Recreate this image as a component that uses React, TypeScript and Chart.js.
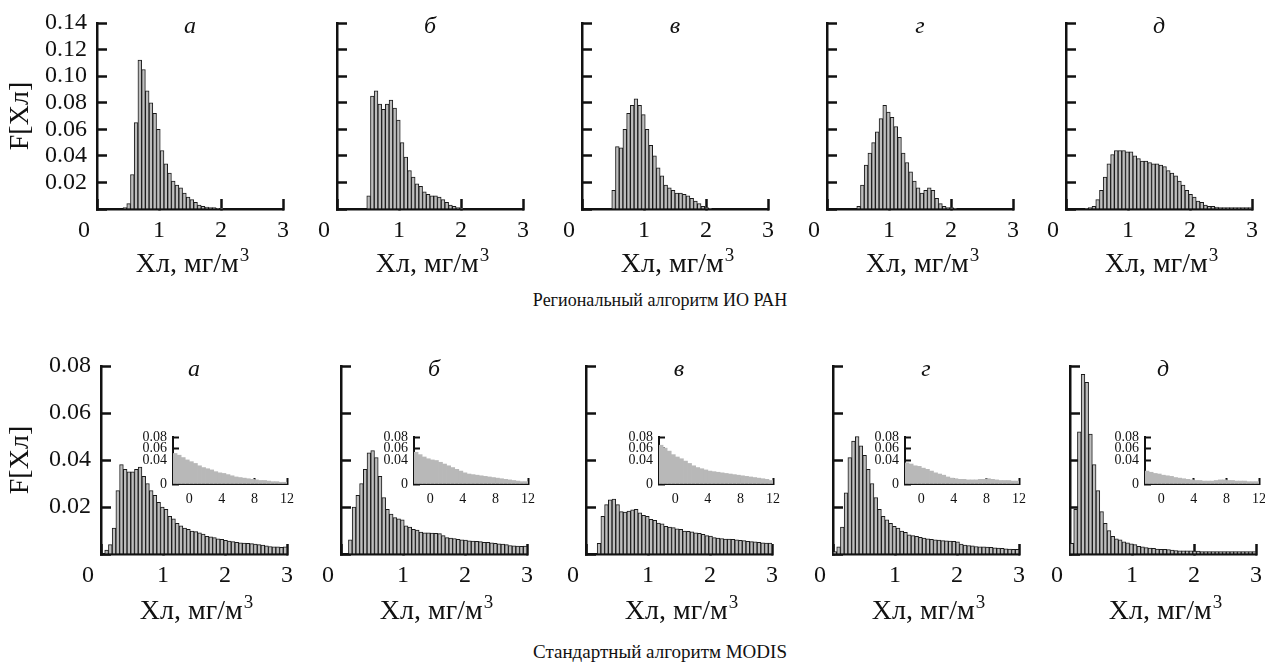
import React, { useEffect, useRef } from 'react';
import { Chart, registerables } from 'chart.js';

Chart.register(...registerables);

const FONT = "'Liberation Serif', 'Times New Roman', serif";
const INK = '#111111';

// ---- categories / ticks ----
const BIN_WIDTH = 0.06; // mg/m3 per bin of the main histograms
const BIN_START = 0;
const INSET_BIN_WIDTH = 0.5;
const INSET_START = -2;
const PANEL_LETTERS = ['а', 'б', 'в', 'г', 'д'];
const X_TICKS = [0, 1, 2, 3];
const TOP_Y_TICKS = [0, 0.02, 0.04, 0.06, 0.08, 0.1, 0.12, 0.14];
const BOTTOM_Y_TICKS = [0, 0.02, 0.04, 0.06, 0.08];
const INSET_X_TICKS = [0, 4, 8, 12];
const INSET_Y_TICKS = [0, 0.04, 0.06, 0.08];
const X_TITLE_MAIN = 'Хл, мг/м';
const X_TITLE_SUP = '3';
const Y_TITLE = 'F[Хл]';
const TOP_CAPTION = 'Региональный алгоритм ИО РАН';
const BOTTOM_CAPTION = 'Стандартный алгоритм MODIS';

// ---- series: regional algorithm (top row), 50 bins of 0.06 from 0 to 3 ----
const TOP_A = [0, 0, 0, 0, 0, 0, 0, 0.001, 0.004, 0.026, 0.065, 0.112, 0.105, 0.089, 0.08, 0.072, 0.06, 0.044, 0.034, 0.027, 0.021, 0.018, 0.016, 0.012, 0.009, 0.007, 0.005, 0.003, 0.002, 0.0015, 0.001, 0.001, 0.0005, 0.0005, 0, 0, 0, 0, 0, 0, 0, 0, 0, 0, 0, 0, 0, 0, 0, 0];
const TOP_B = [0, 0, 0, 0, 0, 0, 0, 0, 0.01, 0.085, 0.089, 0.079, 0.075, 0.079, 0.082, 0.076, 0.067, 0.05, 0.039, 0.029, 0.024, 0.019, 0.017, 0.013, 0.011, 0.01, 0.01, 0.009, 0.007, 0.005, 0.003, 0.002, 0.001, 0.0005, 0, 0, 0, 0, 0, 0, 0, 0, 0, 0, 0, 0, 0, 0, 0, 0];
const TOP_V = [0, 0, 0, 0, 0, 0, 0, 0, 0.014, 0.047, 0.046, 0.06, 0.072, 0.078, 0.083, 0.078, 0.071, 0.06, 0.048, 0.04, 0.031, 0.025, 0.018, 0.016, 0.014, 0.012, 0.012, 0.011, 0.01, 0.008, 0.006, 0.004, 0.002, 0.001, 0.0005, 0, 0, 0, 0, 0, 0, 0, 0, 0, 0, 0, 0, 0, 0, 0];
const TOP_G = [0, 0, 0, 0, 0, 0, 0, 0, 0.002, 0.018, 0.033, 0.042, 0.05, 0.058, 0.068, 0.078, 0.073, 0.069, 0.062, 0.054, 0.042, 0.035, 0.028, 0.021, 0.016, 0.012, 0.014, 0.016, 0.014, 0.008, 0.004, 0.002, 0.001, 0.001, 0.0005, 0, 0, 0, 0, 0, 0, 0, 0, 0, 0, 0, 0, 0, 0, 0];
const TOP_D = [0, 0, 0, 0, 0, 0.0005, 0.001, 0.002, 0.007, 0.014, 0.024, 0.034, 0.041, 0.044, 0.044, 0.044, 0.043, 0.043, 0.04, 0.038, 0.036, 0.036, 0.035, 0.034, 0.034, 0.033, 0.032, 0.029, 0.027, 0.025, 0.021, 0.018, 0.014, 0.011, 0.009, 0.006, 0.005, 0.003, 0.002, 0.002, 0.0015, 0.001, 0.001, 0.001, 0.001, 0.001, 0.001, 0.001, 0.001, 0.001];

// ---- series: standard MODIS algorithm (bottom row) ----
const BOTTOM_A = [0, 0.0017, 0.004, 0.011, 0.027, 0.038, 0.036, 0.035, 0.035, 0.036, 0.037, 0.033, 0.03, 0.027, 0.025, 0.022, 0.02, 0.019, 0.016, 0.015, 0.013, 0.012, 0.011, 0.0105, 0.0098, 0.0095, 0.009, 0.0085, 0.0075, 0.0073, 0.007, 0.0065, 0.0062, 0.0058, 0.0055, 0.0053, 0.005, 0.0048, 0.0047, 0.0045, 0.0044, 0.0042, 0.004, 0.0038, 0.0035, 0.0032, 0.003, 0.003, 0.0028, 0.003];
const BOTTOM_B = [0, 0, 0.006, 0.02, 0.025, 0.03, 0.036, 0.043, 0.044, 0.041, 0.033, 0.024, 0.019, 0.017, 0.0155, 0.015, 0.0145, 0.012, 0.0115, 0.0105, 0.0102, 0.0093, 0.009, 0.009, 0.0089, 0.0088, 0.0087, 0.0078, 0.007, 0.0068, 0.0066, 0.0062, 0.006, 0.0059, 0.0056, 0.0055, 0.0054, 0.0053, 0.005, 0.005, 0.0048, 0.0045, 0.0043, 0.0042, 0.004, 0.0036, 0.0035, 0.0034, 0.0033, 0.0034];
const BOTTOM_V = [0, 0, 0, 0.0045, 0.016, 0.021, 0.023, 0.0234, 0.021, 0.018, 0.0178, 0.0183, 0.0188, 0.019, 0.0175, 0.0165, 0.016, 0.0148, 0.0143, 0.0132, 0.0128, 0.0118, 0.0115, 0.0112, 0.0107, 0.0105, 0.0098, 0.0096, 0.0094, 0.009, 0.0088, 0.0084, 0.0078, 0.0076, 0.007, 0.0068, 0.0066, 0.0064, 0.0063, 0.0062, 0.006, 0.0058, 0.0057, 0.0054, 0.0053, 0.0052, 0.005, 0.0048, 0.0047, 0.0046];
const BOTTOM_G = [0.001, 0.003, 0.0115, 0.026, 0.041, 0.048, 0.05, 0.046, 0.042, 0.036, 0.03, 0.024, 0.019, 0.016, 0.0145, 0.013, 0.0118, 0.011, 0.0098, 0.0092, 0.0082, 0.0078, 0.0075, 0.0071, 0.0068, 0.0065, 0.0062, 0.006, 0.0059, 0.0057, 0.0056, 0.0055, 0.0054, 0.0052, 0.0042, 0.0038, 0.0036, 0.0035, 0.0032, 0.003, 0.003, 0.0029, 0.0028, 0.0026, 0.0025, 0.0024, 0.0022, 0.0021, 0.002, 0.002];
const BOTTOM_D = [0.0045, 0.019, 0.052, 0.0765, 0.073, 0.051, 0.038, 0.027, 0.018, 0.013, 0.01, 0.0075, 0.0065, 0.006, 0.0052, 0.0048, 0.0043, 0.004, 0.0033, 0.003, 0.0027, 0.0025, 0.0024, 0.0021, 0.002, 0.002, 0.0019, 0.0017, 0.0015, 0.0014, 0.0014, 0.0013, 0.0013, 0.0012, 0.0012, 0.001, 0.001, 0.001, 0.001, 0.001, 0.001, 0.001, 0.001, 0.001, 0.001, 0.001, 0.001, 0.001, 0.001, 0.001];

// ---- inset series: 28 bins of 0.5 from -2 to 12 ----
const INSET_A = [0.052, 0.049, 0.045, 0.041, 0.038, 0.035, 0.031, 0.028, 0.026, 0.024, 0.021, 0.019, 0.018, 0.016, 0.014, 0.012, 0.011, 0.01, 0.009, 0.008, 0.007, 0.006, 0.006, 0.005, 0.004, 0.004, 0.003, 0.003];
const INSET_B = [0.054, 0.05, 0.046, 0.043, 0.041, 0.04, 0.037, 0.034, 0.031, 0.028, 0.025, 0.022, 0.019, 0.017, 0.016, 0.015, 0.014, 0.013, 0.012, 0.011, 0.01, 0.009, 0.008, 0.007, 0.006, 0.005, 0.004, 0.004];
const INSET_V = [0.066, 0.061, 0.056, 0.05, 0.046, 0.043, 0.039, 0.035, 0.031, 0.028, 0.026, 0.024, 0.022, 0.021, 0.02, 0.019, 0.018, 0.017, 0.016, 0.015, 0.014, 0.013, 0.012, 0.011, 0.01, 0.009, 0.008, 0.006];
const INSET_G = [0.036, 0.034, 0.031, 0.03, 0.027, 0.025, 0.022, 0.019, 0.017, 0.015, 0.012, 0.01, 0.009, 0.008, 0.008, 0.007, 0.007, 0.007, 0.008, 0.008, 0.009, 0.008, 0.007, 0.006, 0.006, 0.006, 0.005, 0.005];
const INSET_D = [0.022, 0.02, 0.018, 0.017, 0.015, 0.014, 0.013, 0.011, 0.01, 0.009, 0.008, 0.007, 0.006, 0.006, 0.005, 0.005, 0.005, 0.006, 0.007, 0.007, 0.006, 0.006, 0.005, 0.005, 0.005, 0.004, 0.004, 0.004];

const TOP_SERIES = [TOP_A, TOP_B, TOP_V, TOP_G, TOP_D];
const BOTTOM_SERIES = [BOTTOM_A, BOTTOM_B, BOTTOM_V, BOTTOM_G, BOTTOM_D];
const INSET_SERIES = [INSET_A, INSET_B, INSET_V, INSET_G, INSET_D];

// ---- layout (plot-area rectangles) ----
const TOP_LEFTS = [97, 337, 582, 827, 1066];
const BOTTOM_LEFTS = [101, 341, 586, 833, 1070];
const INSET_LEFTS = [173, 414, 659, 905, 1145];

type Spec = {
  left: number; top: number; width: number; height: number;
  padL: number; padR: number; padT: number; padB: number;
  values: number[]; binStart: number; binWidth: number;
  xMin: number; xMax: number; xTicks: number[];
  yMax: number; yTicks: number[];
  yLabels: 'none' | 'nonzero' | 'all';
  hideZeroX: boolean;
  xTitle: boolean; yTitle: boolean; yTitleX: number; xTitleBase: number;
  letter?: string; zeroCorner: boolean;
  tickSize: number; tickLen: number; tickWidth: number; axisWidth: number;
  xTickPad: number; yTickPad: number;
  barColor: string; borderColor: string; borderWidth: number;
};

const TITLE_SIZE = 28;
const SUP_SIZE = 19;

function HistChart({ s }: { s: Spec }) {
  const ref = useRef<HTMLCanvasElement>(null);
  const cw = s.padL + s.width + s.padR;
  const ch = s.padT + s.height + s.padB;
  useEffect(() => {
    const canvas = ref.current;
    if (!canvas) return;
    const textPlugin = {
      id: 'panelText',
      afterDraw(chart: any) {
        const { ctx, chartArea } = chart;
        const cx = (chartArea.left + chartArea.right) / 2;
        ctx.save();
        ctx.fillStyle = INK;
        if (s.letter) {
          ctx.font = `italic 24px ${FONT}`;
          ctx.textAlign = 'center';
          ctx.textBaseline = 'alphabetic';
          ctx.fillText(s.letter, cx, chartArea.top + 10);
        }
        if (s.zeroCorner) {
          ctx.font = `${s.tickSize}px ${FONT}`;
          ctx.textAlign = 'center';
          ctx.textBaseline = 'middle';
          const xs = chart.scales.x;
          const ys = chart.scales.y;
          ctx.fillText('0', xs.getPixelForValue(0) - 13, ys.getPixelForValue(0) + 22);
        }
        if (s.xTitle) {
          ctx.textBaseline = 'alphabetic';
          ctx.textAlign = 'left';
          ctx.font = `${TITLE_SIZE}px ${FONT}`;
          const w1 = ctx.measureText(X_TITLE_MAIN).width;
          ctx.font = `${SUP_SIZE}px ${FONT}`;
          const w2 = ctx.measureText(X_TITLE_SUP).width;
          const x0 = cx - (w1 + w2) / 2 + 2;
          const base = chartArea.bottom + s.xTitleBase;
          ctx.font = `${TITLE_SIZE}px ${FONT}`;
          ctx.fillText(X_TITLE_MAIN, x0, base);
          ctx.font = `${SUP_SIZE}px ${FONT}`;
          ctx.fillText(X_TITLE_SUP, x0 + w1 + 1, base - 11);
        }
        if (s.yTitle) {
          ctx.translate(chartArea.left - s.yTitleX, (chartArea.top + chartArea.bottom) / 2);
          ctx.rotate(-Math.PI / 2);
          ctx.font = `${TITLE_SIZE}px ${FONT}`;
          ctx.textAlign = 'center';
          ctx.textBaseline = 'middle';
          ctx.fillText(Y_TITLE, 0, 0);
        }
        ctx.restore();
      },
    };
    const chart = new Chart(canvas, {
      type: 'bar',
      data: {
        datasets: [
          {
            data: s.values.map((v, i) => ({ x: s.binStart + (i + 0.5) * s.binWidth, y: v })),
            backgroundColor: s.barColor,
            borderColor: s.borderColor,
            borderWidth: s.borderWidth,
            borderSkipped: 'start',
            barPercentage: 1,
            categoryPercentage: 1,
          } as any,
        ],
      },
      options: {
        responsive: false,
        animation: false,
        events: [],
        layout: { padding: { left: 0, top: s.padT, right: s.padR, bottom: 0 } },
        plugins: { legend: { display: false }, tooltip: { enabled: false }, title: { display: false } },
        scales: {
          x: {
            type: 'linear',
            z: 1,
            min: s.xMin,
            max: s.xMax,
            offset: false,
            afterBuildTicks: (sc: any) => { sc.ticks = s.xTicks.map((v) => ({ value: v })); },
            afterFit: (sc: any) => {
              sc.height = s.padB;
              sc.paddingLeft = 0; sc.paddingRight = 0; sc.paddingTop = 0; sc.paddingBottom = 0;
            },
            grid: { display: true, drawOnChartArea: false, drawTicks: true, tickLength: -s.tickLen, tickWidth: s.tickWidth, tickColor: INK, offset: false },
            border: { display: true, color: INK, width: s.axisWidth },
            ticks: {
              autoSkip: false, maxRotation: 0, padding: s.xTickPad, color: INK,
              font: { size: s.tickSize, family: FONT },
              callback: (v: any) => (v === 0 && s.hideZeroX ? '' : String(v)),
            },
          },
          y: {
            type: 'linear',
            z: 1,
            min: 0,
            max: s.yMax,
            afterBuildTicks: (sc: any) => { sc.ticks = s.yTicks.map((v) => ({ value: v })); },
            afterFit: (sc: any) => {
              sc.width = s.padL;
              sc.paddingLeft = 0; sc.paddingRight = 0; sc.paddingTop = 0; sc.paddingBottom = 0;
            },
            grid: { display: true, drawOnChartArea: false, drawTicks: true, tickLength: -s.tickLen, tickWidth: s.tickWidth, tickColor: INK },
            border: { display: true, color: INK, width: s.axisWidth },
            ticks: {
              autoSkip: false, padding: s.yTickPad, color: INK,
              font: { size: s.tickSize, family: FONT },
              callback: (v: any) => {
                if (s.yLabels === 'none') return '';
                if (v === 0) return s.yLabels === 'all' ? '0' : '';
                return Number(v).toFixed(2);
              },
            },
          },
        },
      },
      plugins: [textPlugin],
    });
    return () => chart.destroy();
  }, []);
  return (
    <canvas
      ref={ref}
      width={cw}
      height={ch}
      style={{ position: 'absolute', left: s.left - s.padL, top: s.top - s.padT, width: cw, height: ch }}
    />
  );
}

const MAIN_COMMON = {
  padL: 92, padR: 22, padT: 18, padB: 75,
  binStart: BIN_START, binWidth: BIN_WIDTH,
  xMin: 0, xMax: 3, xTicks: X_TICKS,
  hideZeroX: true, xTitle: true, zeroCorner: true,
  tickSize: 24, tickLen: 10, tickWidth: 2.5, axisWidth: 2.5,
  xTickPad: 17, yTickPad: 20,
  barColor: '#bdbdbd', borderColor: '#1a1a1a', borderWidth: 1,
};

const INSET_COMMON = {
  width: 114, height: 47, top: 437,
  padL: 40, padR: 12, padT: 10, padB: 26,
  binStart: INSET_START, binWidth: INSET_BIN_WIDTH,
  xMin: -2, xMax: 12, xTicks: INSET_X_TICKS,
  yMax: 0.08, yTicks: INSET_Y_TICKS, yLabels: 'all' as const,
  hideZeroX: false, xTitle: false, yTitle: false, yTitleX: 0, xTitleBase: 0, zeroCorner: false,
  tickSize: 14, tickLen: 6, tickWidth: 2, axisWidth: 2,
  xTickPad: 13, yTickPad: 12,
  barColor: '#b8b8b8', borderColor: '#b8b8b8', borderWidth: 0,
};

export default function App() {
  const specs: Spec[] = [];
  TOP_SERIES.forEach((vals, i) => {
    specs.push({
      ...MAIN_COMMON,
      left: TOP_LEFTS[i], top: 23, width: 186, height: 186,
      values: vals, yMax: 0.14, yTicks: TOP_Y_TICKS,
      yLabels: i === 0 ? 'nonzero' : 'none',
      yTitle: i === 0, yTitleX: 76, xTitleBase: 63,
      letter: PANEL_LETTERS[i],
    });
  });
  BOTTOM_SERIES.forEach((vals, i) => {
    specs.push({
      ...MAIN_COMMON,
      left: BOTTOM_LEFTS[i], top: 366, width: 186, height: 188,
      values: vals, yMax: 0.08, yTicks: BOTTOM_Y_TICKS,
      yLabels: i === 0 ? 'nonzero' : 'none',
      yTitle: i === 0, yTitleX: 80, xTitleBase: 65,
      letter: PANEL_LETTERS[i],
    });
  });
  INSET_SERIES.forEach((vals, i) => {
    specs.push({ ...INSET_COMMON, left: INSET_LEFTS[i], values: vals });
  });

  const captionStyle: React.CSSProperties = {
    position: 'absolute', left: 360, width: 600, textAlign: 'center',
    fontFamily: FONT, lineHeight: '22px', color: INK, whiteSpace: 'nowrap',
  };

  return (
    <div style={{ position: 'fixed', left: 0, top: 0, width: 1265, height: 665, background: '#fff', overflow: 'hidden' }}>
      {specs.map((s, k) => <HistChart key={k} s={s} />)}
      <div style={{ ...captionStyle, top: 289, fontSize: 18 }}>{TOP_CAPTION}</div>
      <div style={{ ...captionStyle, top: 641, fontSize: 19 }}>{BOTTOM_CAPTION}</div>
    </div>
  );
}
